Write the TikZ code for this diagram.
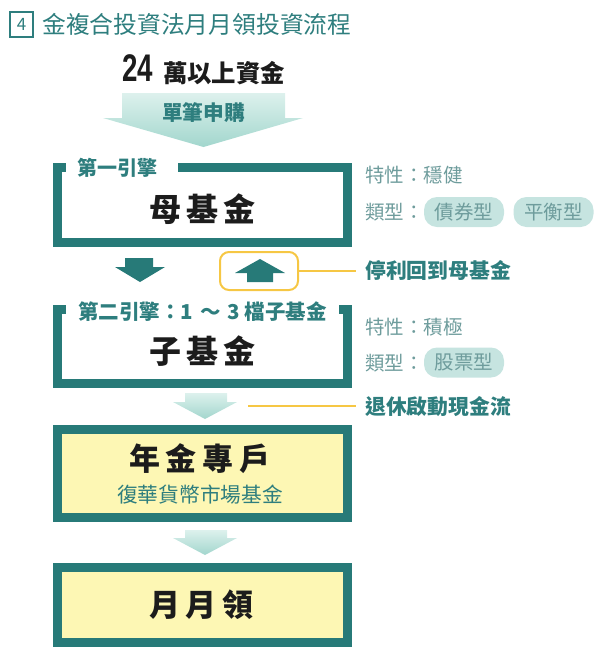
\documentclass[tikz,border=0pt]{standalone}
\usepackage{fontspec}
\usepackage{graphicx}
\setmainfont{Noto Sans CJK TC}
\newfontfamily\numfont{Liberation Sans}
\usetikzlibrary{calc}
\definecolor{teal1}{HTML}{277A78}
\definecolor{ttext}{HTML}{2E7E7E}
\definecolor{gray1}{HTML}{6E9C9C}
\definecolor{pillc}{HTML}{C6E4E0}
\definecolor{yel}{HTML}{F6C744}
\definecolor{yfill}{HTML}{FDF7B4}
\definecolor{lta}{HTML}{DDF1ED}
\definecolor{ltb}{HTML}{A2D6CD}
\definecolor{ink}{HTML}{1C1C1C}
\newcommand{\fs}[1]{\fontsize{#1}{#1}\selectfont}
\newcommand{\lsp}{\hspace{6pt}}
\begin{document}
\begin{tikzpicture}[x=1pt,y=-1pt,
  lbl/.style={inner sep=0pt, anchor=center},
  biglbl/.style={lbl, text=ink, font=\fs{31}\bfseries},
  enginelbl/.style={lbl, text=ttext, font=\fs{20}\bfseries},
  side/.style={inner sep=0pt, anchor=west, text=gray1, font=\fs{19.5}},
  sidebold/.style={inner sep=0pt, anchor=west, text=ttext, font=\fs{20.8}\bfseries},
  pillbox/.style={lbl, fill=pillc, rounded corners=13pt, minimum width=80pt, minimum height=30pt, text=gray1, font=\fs{19.5}},
  frame/.style={draw=teal1, line width=9pt},
  boxarea/.style={inner sep=0pt, minimum width=299pt},
  lightarrow/.style={top color=lta, bottom color=ltb, draw=none},
  darkarrow/.style={fill=teal1, draw=none},
  yline/.style={draw=yel, line width=2.2pt}
]
\useasboundingbox (0,0) rectangle (600,657);

% title
\node[lbl, draw=ttext, line width=1.1pt, minimum width=23pt, minimum height=25pt, text=ttext, font=\fs{17}] (num) at (21.5,24.5) {4};
\node[inner sep=0pt, anchor=west, text=ttext, font=\fs{23.8}] (title) at (42,24) {金複合投資法月月領投資流程};

% top amount
\node[lbl, text=ink, font=\numfont\bfseries\fs{38.5}] (n24) at (138,68.5) {\scalebox{0.72}[1]{24}};
\node[lbl, text=ink, font=\fs{24.4}\bfseries] (amt) at (224,73) {萬以上資金};

% big arrow
\coordinate (bigA) at (203.5,93);
\shade[lightarrow] (bigA) ++(-81.5,0) -- ++(163,0) -- ++(0,25) -- ++(18,0) -- (203.5,147) -- (103,118) -- (122,118) -- cycle;
\node[lbl, text=ttext, font=\fs{20.7}\bfseries] (buy) at (203.5,113) {單筆申購};

% box 1
\node[boxarea, minimum height=84pt] (b1) at (202.5,205) {};
\draw[frame] ($(b1.north west)+(13,4.5)$) -- ($(b1.north west)+(4.5,4.5)$) -- ($(b1.south west)+(4.5,-4.5)$) -- ($(b1.south east)+(-4.5,-4.5)$) -- ($(b1.north east)+(-4.5,4.5)$) -- ($(b1.north west)+(125,4.5)$);
\node[enginelbl] (e1) at (117.5,168) {第一引擎};
\node[biglbl, font=\fs{32}\bfseries] (mother) at (202.5,209) {母\hspace{5pt}基\hspace{5pt}金};

\node[side] (c1) at (365,175) {特性：穩健};
\node[side] (t1) at (365,212) {類型：};
\node[pillbox] (p1) at (464,212) {債券型};
\node[pillbox] (p2) at (553.5,212) {平衡型};

% arrows between box1 and box2
\coordinate (dA) at (140,258);
\fill[darkarrow] (dA) ++(-15,0) -- ++(28,0) -- ++(0,9) -- ++(12,0) -- (140,282) -- (115,267) -- (125,267) -- cycle;
\node[lbl, draw=yel, line width=2pt, rounded corners=9pt, minimum width=78pt, minimum height=38pt] (ybox) at (259,271) {};
\coordinate (uA) at (260,259);
\fill[darkarrow] (uA) -- (285,273) -- (273,273) -- (273,282) -- (247,282) -- (247,273) -- (235,273) -- cycle;
\node[sidebold] (stop) at (365,270) {停利回到母基金};
\draw[yline] (ybox.east) -- (ybox.east -| 356,0);

% box 2
\node[boxarea, minimum height=83pt] (b2) at (202.5,346.5) {};
\draw[frame] ($(b2.north west)+(13,4.5)$) -- ($(b2.north west)+(4.5,4.5)$) -- ($(b2.south west)+(4.5,-4.5)$) -- ($(b2.south east)+(-4.5,-4.5)$) -- ($(b2.north east)+(-4.5,4.5)$) -- ($(b2.north east)+(-13,4.5)$);
\node[enginelbl, font=\fs{20.5}\bfseries] (e2) at (202.5,312) {第二引擎：1\hspace{7pt}～\hspace{7pt}3 檔子基金};
\node[biglbl, font=\fs{32}\bfseries] (child) at (202.5,351) {子\hspace{5pt}基\hspace{5pt}金};

\node[side] (c2) at (365,327) {特性：積極};
\node[side] (t2) at (365,363) {類型：};
\node[pillbox] (p3) at (464,362.5) {股票型};

% arrow box2 -> box3
\coordinate (l1) at (206,393);
\shade[lightarrow] (l1) ++(-21,0) -- ++(42,0) -- ++(0,9) -- ++(10,0) -- (205,419) -- (173,402) -- (185,402) -- cycle;
\coordinate (y2) at (248,406);
\node[sidebold] (retire) at (365,407) {退休啟動現金流};
\draw[yline] (y2) -- (356,406);

% box 3
\node[boxarea, minimum height=97pt, fill=yfill] (b3) at (202.5,473.5) {};
\draw[frame] ($(b3.north west)+(4.5,4.5)$) rectangle ($(b3.south east)+(-4.5,-4.5)$);
\node[biglbl] (annuity) at (200,459) {年\lsp 金\lsp 專\lsp 戶};
\node[lbl, text=ttext, font=\fs{20.7}] (mmf) at (200,495) {復華貨幣市場基金};

% arrow box3 -> box4
\coordinate (l2) at (206,530);
\shade[lightarrow] (l2) ++(-21,0) -- ++(42,0) -- ++(0,8) -- ++(10,0) -- (205,555) -- (173,538) -- (185,538) -- cycle;

% box 4
\node[boxarea, minimum height=84pt, fill=yfill] (b4) at (202.5,605) {};
\draw[frame] ($(b4.north west)+(4.5,4.5)$) rectangle ($(b4.south east)+(-4.5,-4.5)$);
\node[biglbl] (monthly) at (201.5,605) {月\lsp 月\lsp 領};
\end{tikzpicture}
\end{document}
